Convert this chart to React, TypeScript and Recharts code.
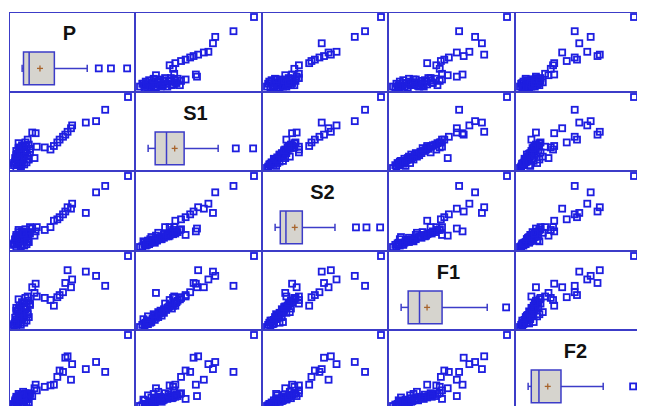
import {
  ScatterChart,
  Scatter,
  XAxis,
  YAxis,
  ReferenceArea,
  ReferenceLine,
  ReferenceDot,
} from "recharts";

// variable names, in matrix order
const names = ["P", "S1", "S2", "F1", "F2"];

// one value per observation, scaled 0..100 (min..max of each variable)
const P = [2, 6, 0, 9, 4, 11, 3, 7, 13, 1, 8, 5, 12, 3, 10, 6, 2, 9, 14, 5, 11, 7, 13, 4, 10, 3, 5, 2, 6, 4, 8, 12, 16, 20, 14, 18, 19, 27, 32, 35, 38, 40, 43, 45, 47, 50, 51, 63, 72, 80, 100, 3, 7, 1, 5, 9, 2, 6, 11, 4, 8, 12, 0];
const S1 = [0, 2, 4, 5, 6, 8, 9, 11, 12, 14, 15, 17, 18, 20, 21, 23, 24, 26, 27, 29, 30, 32, 33, 35, 36, 10, 7, 13, 3, 19, 16, 40, 50, 30, 22, 14, 49, 29, 26, 31, 36, 40, 44, 47, 51, 56, 60, 64, 66, 82, 100, 4, 6, 9, 13, 16, 18, 21, 25, 28, 31, 12, 7];
const S2 = [0, 1, 3, 2, 5, 4, 6, 8, 7, 10, 9, 12, 11, 14, 13, 15, 17, 16, 19, 18, 20, 22, 21, 24, 25, 14, 9, 6, 8, 11, 20, 17, 26, 28, 28, 16, 22, 24, 28, 37, 39, 42, 46, 50, 56, 54, 61, 48, 77, 86, 100, 6, 3, 11, 9, 13, 14, 17, 15, 21, 19, 8, 5];
const F1 = [0, 3, 2, 6, 5, 9, 8, 12, 14, 13, 17, 19, 20, 22, 25, 24, 27, 29, 31, 30, 33, 35, 37, 39, 41, 7, 15, 10, 11, 16, 21, 43, 56, 43, 33, 48, 61, 41, 38, 30, 42, 45, 49, 62, 80, 56, 67, 78, 72, 58, 100, 5, 9, 6, 16, 14, 23, 20, 28, 26, 34, 18, 4];
const F2 = [0, 1, 2, 3, 2, 5, 4, 6, 5, 8, 7, 9, 10, 8, 11, 12, 10, 13, 14, 12, 15, 16, 14, 17, 18, 12, 15, 4, 9, 6, 20, 10, 14, 22, 18, 25, 30, 27, 29, 30, 41, 50, 48, 68, 70, 37, 59, 52, 62, 48, 100, 8, 2, 6, 11, 7, 13, 9, 16, 11, 13, 17, 3];
const series = [P, S1, S2, F1, F2];

// box plot statistics (same 0..100 scale)
const boxMin = [0, 0, 0, 0, 0];
const boxQ1 = [1.3, 6.7, 4.9, 6.7, 3];
const boxMedian = [6.7, 17.5, 10.3, 17.5, 10.3];
const boxMean = [17, 25.3, 18.7, 24.7, 18.7];
const boxQ3 = [30.7, 34.3, 25.9, 39, 31.3];
const boxMax = [62, 66.7, 57, 82, 71.5];
const boxOutliers = [[73, 84.6, 100], [83.5, 100], [77, 87, 100], [100], [100]];

const CW = 126.4;
const RH = 79.5;
const LINE = "#3c3cc8";
const DOT = "#1e1ee0";
const MID = 29.5;

function Square(props: any) {
  const { cx, cy } = props;
  if (cx == null || cy == null) return null;
  return (
    <rect x={cx - 3} y={cy - 3} width={6} height={6} fill="none" stroke={DOT} strokeWidth={1.8} />
  );
}

function Plus(props: any) {
  const { cx, cy } = props;
  if (cx == null || cy == null) return null;
  return (
    <g stroke="#a8642c" strokeWidth={1.3}>
      <line x1={cx - 3} y1={cy} x2={cx + 3} y2={cy} />
      <line x1={cx} y1={cy - 3} x2={cx} y2={cy + 3} />
    </g>
  );
}

function PairPanel({ xs, ys }: { xs: number[]; ys: number[] }) {
  const data = xs.map((x, i) => ({ x, y: ys[i] }));
  return (
    <ScatterChart width={Math.round(CW)} height={Math.round(RH)} margin={{ top: 5, right: 7, bottom: 4, left: 5 }}>
      <XAxis type="number" dataKey="x" domain={[0, 100]} hide />
      <YAxis type="number" dataKey="y" domain={[0, 100]} hide />
      <Scatter data={data} shape={Square} isAnimationActive={false} />
    </ScatterChart>
  );
}

function BoxPanel({ i }: { i: number }) {
  const seg = (x1: number, y1: number, x2: number, y2: number) => [
    { x: x1, y: y1 },
    { x: x2, y: y2 },
  ];
  return (
    <ScatterChart width={Math.round(CW)} height={Math.round(RH)} margin={{ top: 0, right: 0, bottom: 0, left: 0 }}>
      <XAxis type="number" dataKey="x" domain={[-12.5, 107.5]} hide />
      <YAxis type="number" dataKey="y" domain={[0, 100]} hide />
      <ReferenceDot
        x={45}
        y={74}
        r={0}
        stroke="none"
        label={{
          value: names[i],
          position: "center",
          fontSize: 20,
          fontWeight: 700,
          fill: "#111",
          fontFamily: "Liberation Sans, Arial, sans-serif",
        }}
      />
      <ReferenceLine segment={seg(boxMin[i], MID, boxQ1[i], MID)} stroke={LINE} strokeWidth={1.5} />
      <ReferenceLine segment={seg(boxQ3[i], MID, boxMax[i], MID)} stroke={LINE} strokeWidth={1.5} />
      <ReferenceLine segment={seg(boxMin[i], MID - 4.5, boxMin[i], MID + 4.5)} stroke={LINE} strokeWidth={1.5} />
      <ReferenceLine segment={seg(boxMax[i], MID - 4.5, boxMax[i], MID + 4.5)} stroke={LINE} strokeWidth={1.5} />
      <ReferenceArea
        x1={boxQ1[i]}
        x2={boxQ3[i]}
        y1={9}
        y2={50}
        fill="#d6d4ce"
        fillOpacity={1}
        stroke={LINE}
        strokeWidth={1.5}
      />
      <ReferenceLine segment={seg(boxMedian[i], 9, boxMedian[i], 50)} stroke={LINE} strokeWidth={1.5} />
      <Scatter data={[{ x: boxMean[i], y: MID }]} shape={Plus} isAnimationActive={false} />
      <Scatter data={boxOutliers[i].map((x) => ({ x, y: MID }))} shape={Square} isAnimationActive={false} />
    </ScatterChart>
  );
}

export default function App() {
  const cells = [];
  for (let r = 0; r < 5; r++) {
    for (let c = 0; c < 5; c++) {
      cells.push(
        <div key={`${r}-${c}`} style={{ position: "absolute", left: c * CW, top: r * RH }}>
          {r === c ? <BoxPanel i={r} /> : <PairPanel xs={series[c]} ys={series[r]} />}
        </div>
      );
    }
  }
  const lines = [];
  for (let k = 0; k <= 5; k++) {
    lines.push(
      <div key={`v${k}`} style={{ position: "absolute", left: k * CW - 1, top: -1, width: 2, height: 5 * RH + 2, background: LINE }} />
    );
    lines.push(
      <div key={`h${k}`} style={{ position: "absolute", left: -1, top: k * RH - 1, width: 5 * CW + 2, height: 2, background: LINE }} />
    );
  }
  return (
    <div style={{ position: "relative", marginLeft: 1, marginTop: 4, width: 5 * CW + 2, height: 394, background: "#fff" }}>
      <div style={{ position: "absolute", inset: 0, overflow: "hidden" }}>
        {cells}
        {lines}
      </div>
    </div>
  );
}
